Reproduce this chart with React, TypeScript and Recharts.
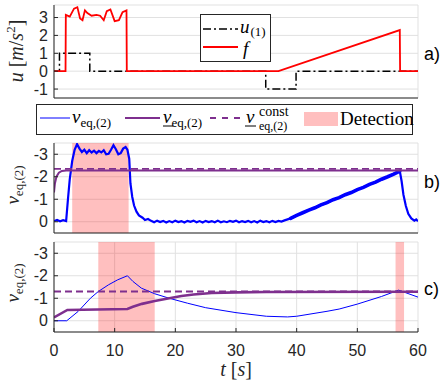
import React from 'react';
import { ComposedChart, Line, XAxis, YAxis, CartesianGrid, ReferenceArea } from 'recharts';

const SERIF = '"Liberation Serif", "DejaVu Serif", serif';
const SANS = '"Liberation Sans", Arial, sans-serif';
const AXIS = '#262626';
const GRID = '#e1e1e1';
const BLUE = '#0000ff';
const RED = '#ff0000';
const PURPLE = '#7e2f8e';
const PINK = '#ffbfbf';

const T_TICKS = [0, 10, 20, 30, 40, 50, 60];
const U_TICKS = [-1, 0, 1, 2, 3];
const NU_TICKS = [-3, -2, -1, 0];

// a) input u_(1) and fault f  [t, value]
const U1: [number, number][] = [
  [0, 0], [0.9, 0], [0.9, 1], [5.9, 1], [5.9, 0], [34.9, 0], [34.9, -1], [39.9, -1], [39.9, 0], [60, 0],
];
const F: [number, number][] = [
  [0, 0], [1.9, 0], [1.95, 3.15], [2.6, 3.05], [3.3, 3.5], [3.85, 3.58], [4.3, 2.95], [4.7, 2.85],
  [5.1, 3.4], [5.5, 3.25], [6.2, 3.1], [7.0, 3.15], [7.6, 3.1], [8.2, 2.85], [8.7, 3.35], [9.3, 3.45],
  [10.0, 2.8], [10.7, 2.85], [11.3, 3.3], [11.95, 3.4], [12.0, 0], [37, 0], [57, 2.3], [57.05, 0], [60, 0],
];

// b) measured nu_eq,(2) (noisy), its lower bound and the constant bound
const NU_B: [number, number][] = [
  [0, -0.03], [0.5, -0.08], [1, -0.02], [1.5, -0.07], [2, -0.03], [2.3, -1.0], [2.6, -1.9], [3.0, -2.7],
  [3.4, -3.2], [3.8, -3.45], [4.2, -3.25], [4.6, -3.1], [5.0, -3.2], [5.4, -3.05], [5.8, -3.18], [6.2, -3.08],
  [6.6, -3.16], [7.0, -3.05], [7.4, -3.15], [7.8, -3.08], [8.2, -3.18], [8.6, -3.0], [9.0, -3.02], [9.4, -3.2],
  [9.8, -3.4], [10.2, -3.22], [10.6, -3.0], [11.0, -3.05], [11.4, -3.25], [11.8, -3.32], [12.1, -3.2],
  [12.4, -2.8], [12.6, -1.7], [12.9, -1.1], [13.2, -0.72], [13.6, -0.45], [14.0, -0.28], [14.6, -0.18],
  [15.0, -0.08], [15.5, -0.12], [16, -0.04], [16.5, 0.02], [17, -0.05], [17.5, 0.01], [18, -0.04], [18.5, 0.03],
  [19, -0.03], [19.5, 0.02], [20, -0.05], [20.5, 0.01], [21, -0.03], [21.5, 0.03], [22, -0.04], [22.5, 0.0],
  [23, -0.05], [23.5, 0.02], [24, -0.03], [24.5, 0.03], [25, -0.04], [25.5, 0.01], [26, -0.03], [26.5, 0.02],
  [27, -0.05], [27.5, 0.02], [28, -0.02], [28.5, 0.02], [29, -0.04], [29.5, 0.0], [30, -0.05], [30.5, 0.02],
  [31, -0.03], [31.5, 0.01], [32, -0.04], [32.5, 0.02], [33, -0.03], [33.5, 0.03], [34, -0.05], [34.5, 0.01],
  [35, -0.03], [35.5, 0.02], [36, -0.04], [36.5, 0.01], [37, -0.04], [37.5, -0.01],
  [38, -0.06], [39, -0.15], [40, -0.28], [41, -0.4], [42, -0.52], [43, -0.62], [44, -0.75], [45, -0.85],
  [46, -0.98], [47, -1.07], [48, -1.2], [49, -1.3], [50, -1.43], [51, -1.53], [52, -1.66], [53, -1.76],
  [54, -1.89], [55, -2.0], [56, -2.12], [57, -2.25],
  [57.3, -1.8], [57.6, -1.2], [58.0, -0.7], [58.4, -0.35], [58.9, -0.15], [59.4, -0.05], [59.7, -0.1], [60, -0.02],
];
// stretch of NU_B where the noise band is widest
const RAMP_B: [number, number] = [39, 57];
const NU_B_LOW: [number, number][] = [
  [0, -1.3], [0.15, -1.7], [0.4, -2.0], [0.8, -2.18], [1.3, -2.26], [2, -2.28], [60, -2.28],
];
const NU_B_CONST: [number, number][] = [[0, -2.35], [60, -2.35]];
const DET_B: [number, number][] = [[3.0, 12.3]];

// c) estimated nu_eq,(2), its lower bound and the constant bound
const NU_C: [number, number][] = [
  [0, 0], [2.1, 0], [4, -0.42], [6, -1.0], [7.3, -1.3], [9, -1.6], [10.5, -1.82], [12.1, -2.0], [13, -1.75],
  [14.4, -1.45], [16.6, -1.2], [19, -1.0], [22, -0.78], [25, -0.58], [30, -0.36], [35, -0.2], [38.5, -0.17],
  [40, -0.2], [45, -0.42], [47, -0.52], [50, -0.74], [54, -1.08], [56.8, -1.36], [60, -1.05],
];
const NU_C_LOW: [number, number][] = [
  [0, -0.15], [2.2, -0.48], [12.1, -0.52], [13, -0.62], [14.5, -0.75], [16.6, -0.88], [19, -1.0], [21, -1.1],
  [23, -1.17], [26, -1.23], [30, -1.26], [35, -1.28], [60, -1.29],
];
const NU_C_CONST: [number, number][] = [[0, -1.3], [60, -1.3]];
const DET_C: [number, number][] = [[7.3, 16.6], [56.3, 57.7]];

const rows = (pts: [number, number][]) => pts.map(([t, v]) => ({ t, v }));
const between = (pts: [number, number][], [a, b]: [number, number]) =>
  rows(pts.filter(([t]) => t >= a && t <= b));

const tickStyle = { fontFamily: SANS, fontSize: 16, fill: AXIS };

function xAxis(showLabels: boolean) {
  return (
    <XAxis
      type="number"
      dataKey="t"
      domain={[0, 60]}
      ticks={T_TICKS}
      interval={0}
      allowDataOverflow
      height={showLabels ? 30 : 1}
      tick={showLabels ? tickStyle : false}
      tickSize={-4}
      tickMargin={17}
      axisLine={{ stroke: AXIS }}
      tickLine={{ stroke: AXIS }}
    />
  );
}

function yAxis(domain: [number, number], ticks: number[], reversed: boolean) {
  return (
    <YAxis
      type="number"
      domain={domain}
      ticks={ticks}
      interval={0}
      reversed={reversed}
      allowDataOverflow
      width={54}
      tick={tickStyle}
      tickSize={-4}
      tickMargin={10}
      axisLine={{ stroke: AXIS }}
      tickLine={{ stroke: AXIS }}
    />
  );
}

function Nu({ x, y, size = 19 }: { x: number; y: number; size?: number }) {
  return (
    <text x={x} y={y} fontFamily={SERIF} fontSize={size}>
      <tspan fontStyle="italic">ν</tspan>
      <tspan fontSize={13} dy={4}>eq,(2)</tspan>
    </text>
  );
}

export default function App() {
  return (
    <div style={{ position: 'absolute', left: 0, top: 0, width: 442, height: 384, background: '#fff' }}>
      <div style={{ position: 'absolute', left: 0, top: 0 }}>
        <ComposedChart width={442} height={100} margin={{ top: 5, right: 24, bottom: 1, left: 0 }}>
          <CartesianGrid stroke={GRID} />
          {xAxis(false)}
          {yAxis([-1.5, 3.7], U_TICKS, false)}
          <Line data={rows(U1)} dataKey="v" type="linear" stroke="#000" strokeWidth={1.5} strokeDasharray="8 3 2 3" dot={false} isAnimationActive={false} />
          <Line data={rows(F)} dataKey="v" type="linear" stroke={RED} strokeWidth={1.8} dot={false} isAnimationActive={false} />
        </ComposedChart>
      </div>

      <div style={{ position: 'absolute', left: 0, top: 138 }}>
        <ComposedChart width={442} height={100} margin={{ top: 5, right: 24, bottom: 4, left: 0 }}>
          <CartesianGrid stroke={GRID} />
          {xAxis(false)}
          {yAxis([-3.5, 0.5], NU_TICKS, true)}
          <Line data={rows(NU_B)} dataKey="v" type="linear" stroke={BLUE} strokeWidth={2.2} dot={false} isAnimationActive={false} />
          <Line data={between(NU_B, RAMP_B)} dataKey="v" type="linear" stroke={BLUE} strokeWidth={3.6} strokeLinecap="round" dot={false} isAnimationActive={false} />
          <Line data={rows(NU_B_LOW)} dataKey="v" type="linear" stroke={PURPLE} strokeWidth={2} dot={false} isAnimationActive={false} />
          <Line data={rows(NU_B_CONST)} dataKey="v" type="linear" stroke={PURPLE} strokeWidth={1.8} strokeDasharray="7 4" dot={false} isAnimationActive={false} />
          {DET_B.map(([a, b]) => (
            <ReferenceArea key={a} x1={a} x2={b} fill={RED} fillOpacity={0.25} stroke="none" ifOverflow="hidden" />
          ))}
        </ComposedChart>
      </div>

      <div style={{ position: 'absolute', left: 0, top: 237 }}>
        <ComposedChart width={442} height={147} margin={{ top: 5, right: 24, bottom: 22, left: 0 }}>
          <CartesianGrid stroke={GRID} />
          {xAxis(true)}
          {yAxis([-3.5, 0.5], NU_TICKS, true)}
          <Line data={rows(NU_C)} dataKey="v" type="linear" stroke={BLUE} strokeWidth={1} dot={false} isAnimationActive={false} />
          <Line data={rows(NU_C_CONST)} dataKey="v" type="linear" stroke={PURPLE} strokeWidth={1.8} strokeDasharray="7 4" dot={false} isAnimationActive={false} />
          <Line data={rows(NU_C_LOW)} dataKey="v" type="linear" stroke={PURPLE} strokeWidth={2.6} dot={false} isAnimationActive={false} />
          {DET_C.map(([a, b]) => (
            <ReferenceArea key={a} x1={a} x2={b} fill={RED} fillOpacity={0.25} stroke="none" ifOverflow="hidden" />
          ))}
        </ComposedChart>
      </div>

      <svg width={442} height={384} style={{ position: 'absolute', left: 0, top: 0, pointerEvents: 'none' }}>
        {/* legend of a) */}
        <rect x={200.5} y={14.5} width={70} height={47} fill="#fff" stroke={AXIS} />
        <line x1={203} x2={238} y1={29} y2={29} stroke="#000" strokeWidth={1.5} strokeDasharray="8 3 2 3" />
        <text x={240} y={33} fontFamily={SERIF} fontSize={19}>
          <tspan fontStyle="italic">u</tspan>
          <tspan fontSize={13} dx={1} dy={3}>(1)</tspan>
        </text>
        <line x1={203} x2={238} y1={47} y2={47} stroke={RED} strokeWidth={1.8} />
        <text x={243} y={55} fontFamily={SERIF} fontSize={19} fontStyle="italic">f</text>

        {/* shared legend */}
        <rect x={36.5} y={104.5} width={376} height={30} fill="#fff" stroke={AXIS} />
        <line x1={40} x2={70} y1={118} y2={118} stroke={BLUE} strokeWidth={1} />
        <Nu x={72} y={123} />
        <line x1={125} x2={160} y1={118} y2={118} stroke={PURPLE} strokeWidth={2} />
        <Nu x={163} y={123} />
        <line x1={163} x2={173} y1={126} y2={126} stroke="#000" strokeWidth={1} />
        <line x1={210} x2={240} y1={118} y2={118} stroke={PURPLE} strokeWidth={2} strokeDasharray="6 6" />
        <text x={246} y={123} fontFamily={SERIF} fontSize={19}>
          <tspan fontStyle="italic">ν</tspan>
          <tspan x={259} y={116} fontSize={14}>const</tspan>
          <tspan x={259} y={130} fontSize={12}>eq,(2)</tspan>
        </text>
        <line x1={245} x2={256} y1={126} y2={126} stroke="#000" strokeWidth={1} />
        <rect x={304} y={112} width={34} height={14} fill={PINK} />
        <text x={340} y={125} fontFamily={SERIF} fontSize={19}>Detection</text>

        {/* panel tags */}
        <text x={424} y={60} fontFamily={SANS} fontSize={18} fill="#000">a)</text>
        <text x={424} y={188} fontFamily={SANS} fontSize={18} fill="#000">b)</text>
        <text x={424} y={295} fontFamily={SANS} fontSize={18} fill="#000">c)</text>

        {/* axis labels */}
        <text transform="translate(23,51) rotate(-90)" textAnchor="middle" fontFamily={SERIF} fontSize={20} fill={AXIS}>
          <tspan fontStyle="italic">u</tspan>
          <tspan> [</tspan>
          <tspan fontStyle="italic">m</tspan>
          <tspan>/</tspan>
          <tspan fontStyle="italic">s</tspan>
          <tspan fontSize={13} dy={-8}>2</tspan>
          <tspan dy={8}>]</tspan>
        </text>
        <g transform="translate(19,185) rotate(-90)">
          <text textAnchor="middle" fontFamily={SERIF} fontSize={19} fill={AXIS}>
            <tspan fontStyle="italic">ν</tspan>
            <tspan fontSize={13} dy={4}>eq,(2)</tspan>
          </text>
        </g>
        <g transform="translate(19,283) rotate(-90)">
          <text textAnchor="middle" fontFamily={SERIF} fontSize={19} fill={AXIS}>
            <tspan fontStyle="italic">ν</tspan>
            <tspan fontSize={13} dy={4}>eq,(2)</tspan>
          </text>
        </g>
        <text x={236} y={376} textAnchor="middle" fontFamily={SERIF} fontSize={20} fill={AXIS}>
          <tspan fontStyle="italic">t</tspan>
          <tspan> [</tspan>
          <tspan fontStyle="italic">s</tspan>
          <tspan>]</tspan>
        </text>
      </svg>
    </div>
  );
}
